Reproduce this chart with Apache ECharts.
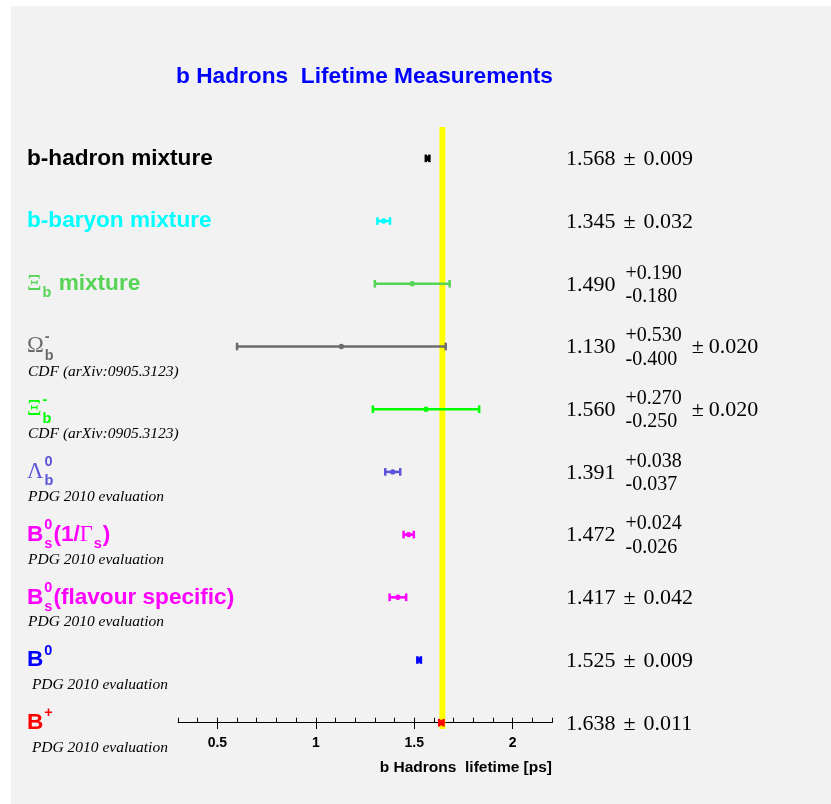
<!DOCTYPE html>
<html>
<head>
<meta charset="utf-8">
<script src="https://cdn.jsdelivr.net/npm/echarts@6/dist/echarts.min.js"></script>
<style>
  html, body { margin: 0; padding: 0; background: #ffffff; }
  #frame { position: absolute; left: 11px; top: 6px; width: 820px; height: 798px; background: #f2f2f2; }
  #chart { position: absolute; left: 0; top: 0; width: 831px; height: 804px; }
</style>
</head>
<body>
<div id="frame"></div>
<div id="chart"></div>
<script>
// ---- Measurements, listed from top to bottom (TLatex-style markup for names) ----
const labels = [
  'b-hadron mixture',
  'b-baryon mixture',
  '#Xi_{b} mixture',
  '#Omega_{b}^{-}',
  '#Xi_{b}^{-}',
  '#Lambda_{b}^{0}',
  'B_{s}^{0}(1/#Gamma_{s})',
  'B_{s}^{0}(flavour specific)',
  'B^{0}',
  'B^{+}'
];
const sources = [
  '', '', '',
  'CDF (arXiv:0905.3123)',
  'CDF (arXiv:0905.3123)',
  'PDG 2010 evaluation',
  'PDG 2010 evaluation',
  'PDG 2010 evaluation',
  ' PDG 2010 evaluation',
  ' PDG 2010 evaluation'
];
const lifetimes = [1.568, 1.345, 1.490, 1.130, 1.560, 1.391, 1.472, 1.417, 1.525, 1.638];
const errPlus   = [0.009, 0.032, 0.190, 0.530, 0.270, 0.038, 0.024, 0.042, 0.009, 0.011];
const errMinus  = [0.009, 0.032, 0.180, 0.400, 0.250, 0.037, 0.026, 0.042, 0.009, 0.011];
const errSyst   = [null, null, null, 0.020, 0.020, null, null, null, null, null];
const colors = ['#000000', '#00ffff', '#55d455', '#6b6b6b', '#00ff00',
                '#5954d9', '#ff00ff', '#ff00ff', '#0000ff', '#ff0000'];

// ---- Axis ----
const xRange = [0.3, 2.2];
const majorTicks = [0.5, 1, 1.5, 2];
const minorTicks = [0.3, 0.4, 0.5, 0.6, 0.7, 0.8, 0.9, 1.0, 1.1, 1.2, 1.3, 1.4, 1.5,
                    1.6, 1.7, 1.8, 1.9, 2.0, 2.1, 2.2];
// reference band drawn behind the points
const bandRange = [1.628, 1.658];

// ---- Styling ----
const SANS = "'Liberation Sans', Arial, Helvetica, sans-serif";
const SERIF = "'Liberation Serif', 'Times New Roman', serif";
const FONT_MAIN = 'bold 22.6px ' + SANS;
const FONT_GREEK = '22.6px ' + SERIF;
const FONT_SCRIPT = 'bold 14.5px ' + SANS;
const FONT_SOURCE = 'italic 15.5px ' + SERIF;
const FONT_VALUE = '22px ' + SERIF;
const FONT_ERR = '20px ' + SERIF;
const LABEL_X = 27;
const VALUE_X = 566;

const GREEK = { Xi: 'Ξ', Omega: 'Ω', Lambda: 'Λ', Gamma: 'Γ' };

const measureCtx = document.createElement('canvas').getContext('2d');
function measure(text, font) {
  measureCtx.font = font;
  return measureCtx.measureText(text).width;
}

// Tiny TLatex subset: #Greek, _{sub}, ^{sup}
function parseLatex(s) {
  const out = [];
  let i = 0, buf = '';
  const flush = () => { if (buf) { out.push({ kind: 'text', text: buf }); buf = ''; } };
  while (i < s.length) {
    const c = s[i];
    if (c === '#') {
      const m = /^#([A-Za-z]+)/.exec(s.slice(i));
      flush();
      out.push({ kind: 'greek', text: GREEK[m[1]] || m[1] });
      i += m[0].length;
    } else if ((c === '_' || c === '^') && s[i + 1] === '{') {
      const end = s.indexOf('}', i);
      flush();
      out.push({ kind: c === '_' ? 'sub' : 'sup', text: s.slice(i + 2, end) });
      i = end + 1;
    } else {
      buf += c;
      i++;
    }
  }
  flush();
  return out;
}

function textEl(text, x, y, font, fill) {
  return {
    type: 'text',
    style: { text: text, x: x, y: y, font: font, fill: fill, align: 'left', verticalAlign: 'middle' }
  };
}

function layoutLabel(frags, x0, y, color) {
  const els = [];
  let x = x0;
  let k = 0;
  while (k < frags.length) {
    const f = frags[k];
    if (f.kind === 'sub' || f.kind === 'sup') {
      let w = 0, j = k;
      while (j < frags.length && j < k + 2 && (frags[j].kind === 'sub' || frags[j].kind === 'sup')) {
        const g = frags[j];
        els.push(textEl(g.text, x + 1, y + (g.kind === 'sub' ? 9.5 : -9.5), FONT_SCRIPT, color));
        w = Math.max(w, measure(g.text, FONT_SCRIPT));
        j++;
      }
      x += w + 2;
      k = j;
    } else {
      const font = f.kind === 'greek' ? FONT_GREEK : FONT_MAIN;
      els.push(textEl(f.text, x, y, font, color));
      x += measure(f.text, font);
      k++;
    }
  }
  return els;
}

const fmt = v => v.toFixed(3);

function layoutValue(i, y) {
  const els = [];
  const main = fmt(lifetimes[i]);
  els.push(textEl(main, VALUE_X, y + 1, FONT_VALUE, '#000'));
  let x = VALUE_X + measure(main, FONT_VALUE);
  if (errPlus[i] === errMinus[i]) {
    x += 8;
    els.push(textEl('±', x, y + 1, FONT_VALUE, '#000'));
    x += measure('±', FONT_VALUE) + 8;
    els.push(textEl(fmt(errPlus[i]), x, y + 1, FONT_VALUE, '#000'));
  } else {
    x += 10;
    const up = '+' + fmt(errPlus[i]);
    const dn = '-' + fmt(errMinus[i]);
    els.push(textEl(up, x, y - 10.5, FONT_ERR, '#000'));
    els.push(textEl(dn, x, y + 13, FONT_ERR, '#000'));
    x += Math.max(measure(up, FONT_ERR), measure(dn, FONT_ERR)) + 10;
    if (errSyst[i] != null) {
      els.push(textEl('±', x, y + 1, FONT_VALUE, '#000'));
      x += measure('±', FONT_VALUE) + 5;
      els.push(textEl(fmt(errSyst[i]), x, y + 1, FONT_VALUE, '#000'));
    }
  }
  return els;
}

const n = labels.length;
const rowPos = i => n - 1 - i;   // top row gets the largest y

const chart = echarts.init(document.getElementById('chart'), null, { renderer: 'canvas' });

chart.setOption({
  backgroundColor: 'transparent',
  animation: false,
  title: {
    text: 'b Hadrons  Lifetime Measurements',
    left: 176,
    top: 65,
    padding: 0,
    textStyle: { color: '#0000ff', fontWeight: 'bold', fontSize: 22.7, fontFamily: SANS }
  },
  grid: { left: 178, right: 279, top: 127, bottom: 75, containLabel: false },
  xAxis: [
    {
      type: 'value', min: xRange[0], max: xRange[1], position: 'bottom',
      axisLine: { show: true, lineStyle: { color: '#000', width: 1 } },
      axisTick: { show: true, inside: true, length: 5, customValues: minorTicks, lineStyle: { color: '#000', width: 1 } },
      axisLabel: { show: true, customValues: majorTicks, margin: 7, color: '#000', fontWeight: 'bold', fontSize: 14, fontFamily: SANS },
      splitLine: { show: false }
    },
    {
      type: 'value', min: xRange[0], max: xRange[1], position: 'bottom', offset: 0,
      axisLine: { show: false },
      axisTick: { show: true, inside: true, length: 10, customValues: majorTicks, lineStyle: { color: '#000', width: 1 } },
      axisLabel: { show: false },
      splitLine: { show: false }
    }
  ],
  yAxis: { type: 'value', min: -0.1, max: 9.5, show: false },
  graphic: [
    {
      type: 'text', right: 279, top: 760,
      style: { text: 'b Hadrons  lifetime [ps]', font: 'bold 15.5px ' + SANS, fill: '#000' }
    }
  ],
  series: [
    {
      // reference band
      type: 'custom', name: 'band', z: 1, clip: false,
      data: [[bandRange[0], bandRange[1]]],
      encode: { x: [0, 1] },
      renderItem: (params, api) => {
        const cs = params.coordSys;
        const x0 = api.coord([api.value(0), 0])[0];
        const x1 = api.coord([api.value(1), 0])[0];
        return { type: 'rect', shape: { x: x0, y: cs.y, width: x1 - x0, height: cs.height }, style: { fill: '#ffff00' } };
      }
    },
    {
      // measurements with error bars
      type: 'custom', name: 'lifetimes', z: 3, clip: false,
      data: lifetimes.map((v, i) => [v, rowPos(i), Math.max(errPlus[i], errMinus[i])]),
      encode: { x: 0, y: 1 },
      renderItem: (params, api) => {
        const i = params.dataIndex;
        const v = api.value(0), r = api.value(1), e = api.value(2);
        const c = api.coord([v, r]);
        const lo = api.coord([v - e, r]);
        const hi = api.coord([v + e, r]);
        const col = colors[i];
        const line = { stroke: col, lineWidth: 2.5 };
        return {
          type: 'group',
          children: [
            { type: 'line', shape: { x1: lo[0], y1: c[1], x2: hi[0], y2: c[1] }, style: line },
            { type: 'line', shape: { x1: lo[0], y1: c[1] - 3.8, x2: lo[0], y2: c[1] + 3.8 }, style: line },
            { type: 'line', shape: { x1: hi[0], y1: c[1] - 3.8, x2: hi[0], y2: c[1] + 3.8 }, style: line },
            { type: 'circle', shape: { cx: c[0], cy: c[1], r: 2.7 }, style: { fill: col } }
          ]
        };
      }
    },
    {
      // names, sources and quoted values
      type: 'custom', name: 'text', z: 4, clip: false, silent: true,
      data: labels.map((_, i) => [xRange[0], rowPos(i)]),
      encode: { x: 0, y: 1 },
      renderItem: (params, api) => {
        const i = params.dataIndex;
        const y = api.coord([api.value(0), api.value(1)])[1];
        const children = layoutLabel(parseLatex(labels[i]), LABEL_X, y, colors[i]);
        if (sources[i]) children.push(textEl(sources[i], LABEL_X + 1, y + 25, FONT_SOURCE, '#000'));
        layoutValue(i, y).forEach(el => children.push(el));
        return { type: 'group', children: children };
      }
    }
  ]
});
</script>
</body>
</html>
